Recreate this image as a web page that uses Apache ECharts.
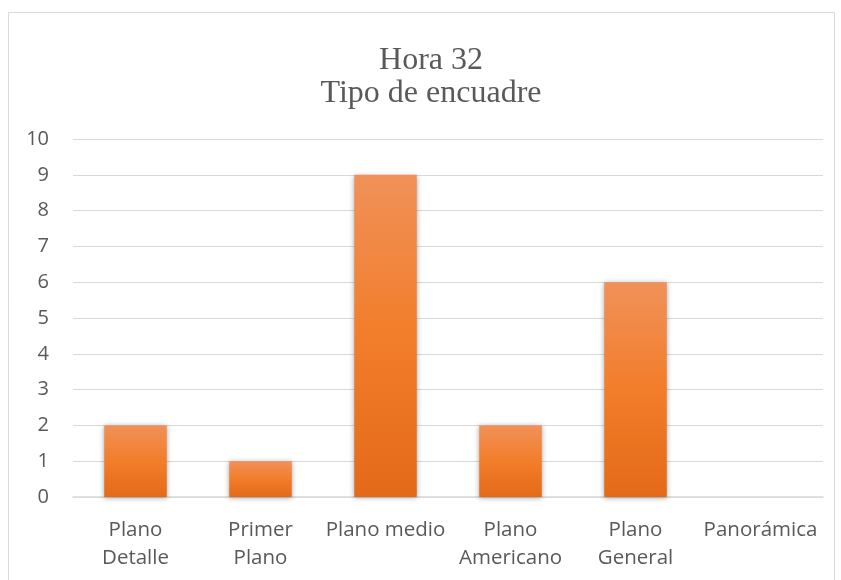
<!DOCTYPE html>
<html><head><meta charset="utf-8">
<script src="https://cdn.jsdelivr.net/npm/echarts@6/dist/echarts.min.js"></script>
<style>html,body{margin:0;padding:0;background:#fff}#c{width:841px;height:580px}</style>
</head><body><div id="c"></div>
<script>
const categories = ["Plano\nDetalle", "Primer\nPlano", "Plano medio", "Plano\nAmericano", "Plano\nGeneral", "Panorámica"];
const values = [2, 1, 9, 2, 6, 0];
const yTicks = {min: 0, max: 10, interval: 1};
const titleText = "Hora 32\nTipo de encuadre";

const chart = echarts.init(document.getElementById('c'));
chart.setOption({
  animation: false,
  graphic: [{type: 'rect', shape: {x: 8.5, y: 12.5, width: 826, height: 600}, style: {fill: 'none', stroke: '#d9d9d9', lineWidth: 1}, silent: true}],
  title: {
    text: titleText, left: 426, top: 39, textAlign: 'center',
    textStyle: {fontFamily: 'Liberation Serif', fontSize: 32, fontWeight: 'normal', color: '#595959', lineHeight: 33}
  },
  grid: {left: 73, right: 18, top: 139, bottom: 83, containLabel: false},
  xAxis: {
    type: 'category', data: categories,
    axisLine: {show: true, lineStyle: {color: '#d9d9d9', width: 1.5}},
    axisTick: {show: false},
    axisLabel: {fontFamily: 'Open Sans', fontSize: 20.5, color: '#595959', lineHeight: 28, margin: 19, interval: 0}
  },
  yAxis: {
    type: 'value', min: yTicks.min, max: yTicks.max, interval: yTicks.interval,
    axisLine: {show: false}, axisTick: {show: false},
    splitLine: {lineStyle: {color: '#d9d9d9', width: 1}},
    axisLabel: {fontFamily: 'Open Sans', fontSize: 20, color: '#595959', margin: 24}
  },
  series: [{
    type: 'bar', data: values, barWidth: '50%',
    itemStyle: {
      color: new echarts.graphic.LinearGradient(0, 0, 0, 1, [
        {offset: 0, color: '#F09159'}, {offset: 0.5, color: '#F27D2A'}, {offset: 1, color: '#E36A18'}
      ]),
      shadowBlur: 5, shadowColor: 'rgba(0,0,0,0.35)', shadowOffsetY: 1
    }
  }]
});
</script></body></html>
